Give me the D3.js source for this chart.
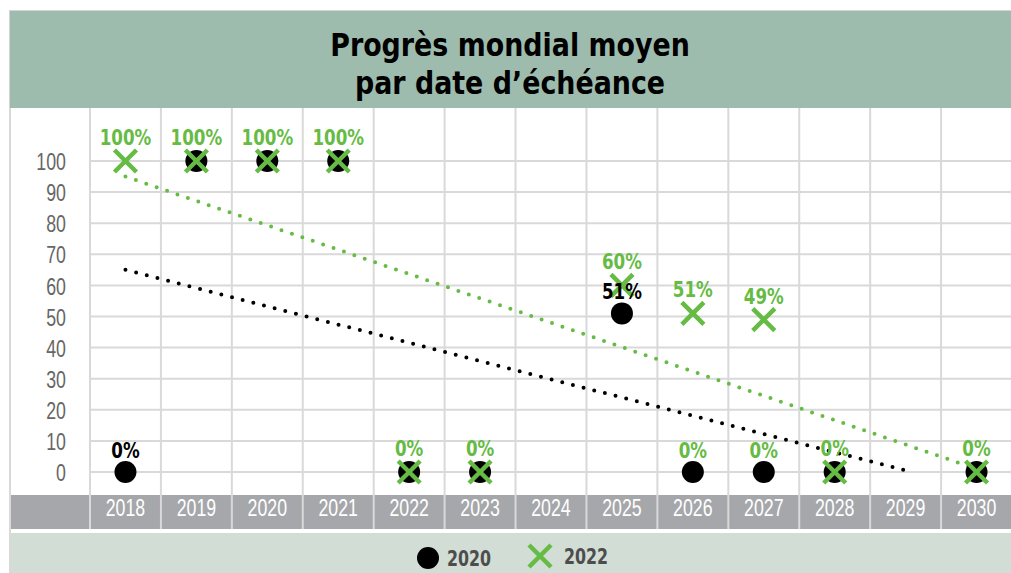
<!DOCTYPE html>
<html>
<head>
<meta charset="utf-8">
<title>Progrès mondial moyen</title>
<script src="https://cdn.jsdelivr.net/npm/d3@7"></script>
<style>
body { margin: 0; background: white; }
svg { display: block; font-family: "DejaVu Sans", sans-serif; }
.grid line { stroke: #d9d9d9; stroke-width: 2px; }
.y.axis .domain, .x.axis .domain { display: none; }
.y.axis .tick text { fill: #666; font-size: 24px; }
.x.axis .tick text { fill: white; font-size: 24px; }
.lbl { font-size: 22px; font-weight: bold; text-anchor: middle; }
.trend { fill: none; stroke-width: 4px; stroke-linecap: round; stroke-dasharray: 0 11; }
</style>
</head>
<body>
<svg id="chart"></svg>
<script>

var years = [2018, 2019, 2020, 2021, 2022, 2023, 2024, 2025, 2026, 2027, 2028, 2029, 2030];
var values2020 = [0, 100, 100, 100, 0, 0, null, 51, 0, 0, 0, null, 0];
var values2022 = [100, 100, 100, 100, 0, 0, null, 60, 51, 49, 0, null, 0];
// which points carry a data label
var labels2020 = ["0%", null, null, null, null, null, null, "51%", "0%", "0%", null, null, null];
var labels2022 = ["100%", "100%", "100%", "100%", "0%", "0%", null, "60%", "51%", "49%", "0%", null, "0%"];
// trendline end points
var trend2020 = [{year: 2018, value: 65}, {year: 2029, value: 0.5}];
var trend2022 = [{year: 2018, value: 95}, {year: 2030, value: 1}];
var yTicks = [0, 10, 20, 30, 40, 50, 60, 70, 80, 90, 100];
var titleLines = ["Progrès mondial moyen", "par date d’échéance"];
var legendNames = ["2020", "2022"];

var W = 1011, H = 573;
var green = "#66bb44";
var plot = {left: 90, right: 1012, top: 108, bottom: 495};

var svg = d3.select("#chart").attr("width", W).attr("height", H);

var x = d3.scaleBand().domain(years).range([plot.left, plot.right]);
var y = d3.scaleLinear().domain([0, 100]).range([472, 161]);

// text squeezed sideways to mimic the condensed face of the original
function narrowText(parent, px, py, sx, txt) {
  return parent.append("g").attr("transform", "translate(" + px + "," + py + ")")
    .append("text").attr("transform", "scale(" + sx + ",1)").text(txt);
}

// frame + title band
svg.append("rect").attr("x", 9.5).attr("y", 10.5).attr("width", W).attr("height", H)
    .attr("fill", "white").attr("stroke", "#d4d4d4");
svg.append("rect").attr("x", 10).attr("y", 11).attr("width", W - 10).attr("height", plot.top - 11)
    .attr("fill", "#9dbcad");
titleLines.forEach(function(t, i) {
  narrowText(svg, 510, 56 + i * 38, 0.84, t)
      .attr("text-anchor", "middle").attr("font-size", 32).attr("font-weight", "bold");
});

// x band + legend band
svg.append("rect").attr("x", 10).attr("y", plot.bottom).attr("width", W - 10).attr("height", 34)
    .attr("fill", "#a6a7ab");
svg.append("rect").attr("x", 10).attr("y", 533).attr("width", W - 10).attr("height", H - 533)
    .attr("fill", "#d2ddd5");

// grid
var grid = svg.append("g").attr("class", "grid");
grid.selectAll(".h").data(yTicks).enter().append("line")
    .attr("x1", plot.left).attr("x2", W)
    .attr("y1", function(d) { return y(d); }).attr("y2", function(d) { return y(d); });
grid.selectAll(".v").data(years).enter().append("line")
    .attr("x1", function(d) { return x(d); }).attr("x2", function(d) { return x(d); })
    .attr("y1", plot.top).attr("y2", 529);
grid.append("line").attr("x1", 10).attr("x2", 10).attr("y1", plot.top).attr("y2", H);

svg.append("g")
    .attr("class", "y axis")
    .attr("transform", "translate(66,0)")
    .call(d3.axisLeft(y).tickValues(yTicks).tickSize(0).tickPadding(0))
  .selectAll("text").attr("dy", "0.36em").attr("transform", "scale(0.74,1)");

svg.append("g")
    .attr("class", "x axis")
    .attr("transform", "translate(0," + (plot.bottom + 4) + ")")
    .call(d3.axisBottom(x).tickSize(0).tickPadding(0))
  .selectAll("text").attr("dy", "0.71em").attr("transform", "scale(0.74,1)");

// trendlines
var trendLine = d3.line()
    .x(function(d) { return x(d.year) + x.bandwidth() / 2; })
    .y(function(d) { return y(d.value); });
svg.append("path").datum(trend2020).attr("class", "trend").attr("stroke", "black").attr("d", trendLine);
svg.append("path").datum(trend2022).attr("class", "trend").attr("stroke", green).attr("d", trendLine);

function cx(i) { return x(years[i]) + x.bandwidth() / 2; }

function cross(sel, s) {
  sel.append("path")
      .attr("d", "M" + (-s) + "," + (-s) + "L" + s + "," + s + "M" + (-s) + "," + s + "L" + s + "," + (-s))
      .attr("stroke", green).attr("stroke-width", 4.5).attr("fill", "none");
}

var pts2020 = values2020.map(function(v, i) { return {i: i, v: v, l: labels2020[i]}; })
    .filter(function(d) { return d.v !== null; });
var pts2022 = values2022.map(function(v, i) { return {i: i, v: v, l: labels2022[i]}; })
    .filter(function(d) { return d.v !== null; });

svg.append("g").selectAll("circle").data(pts2020).enter().append("circle")
    .attr("cx", function(d) { return cx(d.i); })
    .attr("cy", function(d) { return y(d.v); })
    .attr("r", 11).attr("fill", "black");

svg.append("g").selectAll("g").data(pts2022).enter().append("g")
    .attr("transform", function(d) { return "translate(" + cx(d.i) + "," + y(d.v) + ")"; })
    .each(function() { cross(d3.select(this), 11); });

// labels (the 2020 zero labels after 2025 are drawn green in the original)
var lbls = svg.append("g");
pts2020.filter(function(d) { return d.l; }).forEach(function(d) {
  narrowText(lbls, cx(d.i), y(d.v) - 14, 0.76, d.l)
      .attr("class", "lbl").attr("fill", years[d.i] > 2025 ? green : "black");
});
pts2022.filter(function(d) { return d.l; }).forEach(function(d) {
  narrowText(lbls, cx(d.i), y(d.v) - 16, 0.76, d.l)
      .attr("class", "lbl").attr("fill", green);
});

// legend
var lg = svg.append("g");
lg.append("circle").attr("cx", 428).attr("cy", 558).attr("r", 11).attr("fill", "black");
narrowText(lg, 447, 566, 0.72, legendNames[0])
    .attr("font-size", 22).attr("font-weight", "bold").attr("fill", "#4d4d4d");
cross(lg.append("g").attr("transform", "translate(540,556)"), 11);
narrowText(lg, 564, 564, 0.72, legendNames[1])
    .attr("font-size", 22).attr("font-weight", "bold").attr("fill", "#4d4d4d");

</script>
</body>
</html>
